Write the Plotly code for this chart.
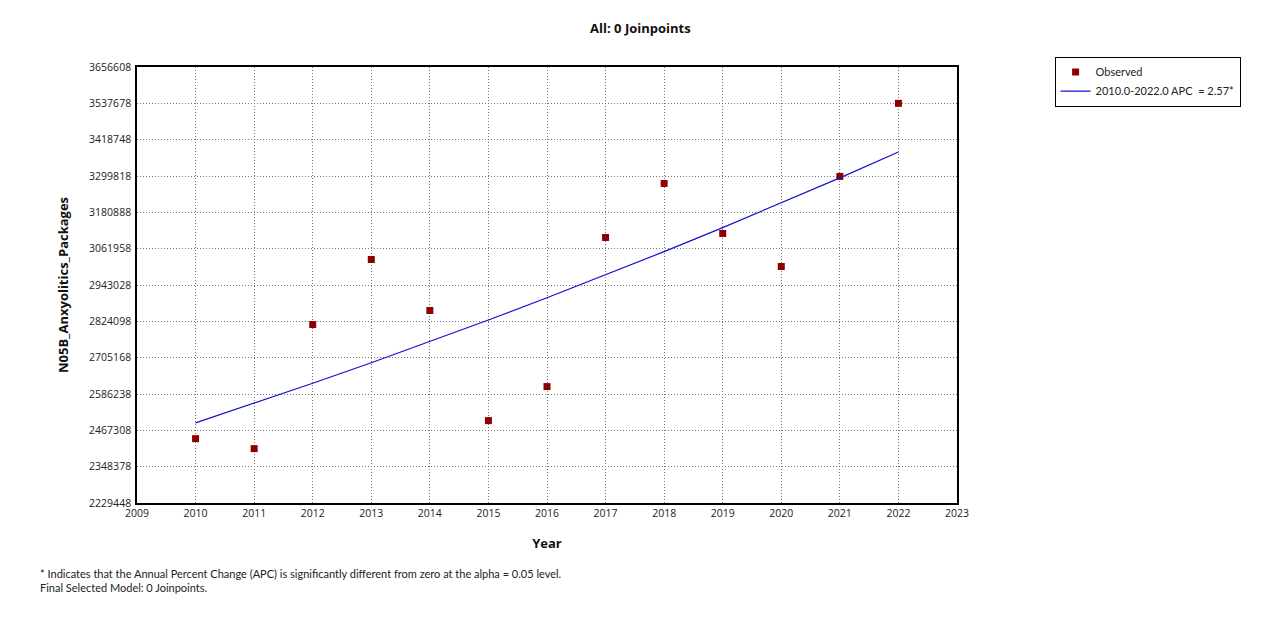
import plotly.graph_objects as go

years = [2010, 2011, 2012, 2013, 2014, 2015, 2016, 2017, 2018, 2019, 2020, 2021, 2022]
observed = [2440100, 2407400, 2813600, 3026500, 2859500, 2499100, 2610500,
            3098600, 3275500, 3111700, 3003600, 3298500, 3537700]
fitted = [2491550, 2555580, 2621260, 2688630, 2757730, 2828600, 2901300,
          2975860, 3052340, 3130790, 3211250, 3293780, 3378430]
y_ticks = [2229448, 2348378, 2467308, 2586238, 2705168, 2824098, 2943028,
           3061958, 3180888, 3299818, 3418748, 3537678, 3656608]
x_ticks = list(range(2009, 2024))

FONT = "Open Sans"

fig = go.Figure()
fig.add_trace(go.Scatter(
    x=years, y=observed, mode="markers", name="Observed",
    marker=dict(symbol="square", size=7, color="#8B0000"),
))
fig.add_trace(go.Scatter(
    x=years, y=fitted, mode="lines", name="2010.0-2022.0 APC  = 2.57*",
    line=dict(color="#1010D0", width=1.2),
))

fig.update_layout(
    width=1279, height=629,
    margin=dict(l=137, r=322, t=67, b=126),
    paper_bgcolor="white", plot_bgcolor="white",
    font=dict(family=FONT, size=10.5, color="#222"),
    title=dict(text="<b>All: 0 Joinpoints</b>", x=(137 + 957) / 2 / 1279 + 0.073,
               xanchor="center", y=1 - 28 / 629, yanchor="middle",
               font=dict(size=13, color="#111")),
    showlegend=True,
    legend=dict(x=1.119, y=1.024, xanchor="left", yanchor="top",
                bordercolor="black", borderwidth=1, bgcolor="white",
                font=dict(family="Lato", size=11, color="#222"), tracegroupgap=0,
                itemwidth=30),
    xaxis=dict(range=[2009, 2023], tickvals=x_ticks, ticktext=[str(v) for v in x_ticks],
               showgrid=True, gridcolor="#777", griddash="1px,2px", gridwidth=1,
               showline=True, linecolor="black", linewidth=1.5, mirror=True,
               ticks="", zeroline=False,
               title=dict(text="<b>Year</b>", font=dict(size=13, color="#111"), standoff=20)),
    yaxis=dict(range=[2229448, 3656608], tickvals=y_ticks, ticktext=[str(v) for v in y_ticks],
               showgrid=True, gridcolor="#777", griddash="1px,2px", gridwidth=1,
               showline=True, linecolor="black", linewidth=1.5, mirror=True,
               ticks="", zeroline=False, ticklabelstandoff=2,
               title=dict(text="<b>N05B_Anxyolitics_Packages</b>", font=dict(size=13, color="#111"), standoff=18)),
)

fig.add_annotation(
    text="* Indicates that the Annual Percent Change (APC) is significantly different from zero at the alpha = 0.05 level.<br>Final Selected Model: 0 Joinpoints.",
    xref="paper", yref="paper", x=(38 - 137) / 820, y=-(565 - 503) / 436,
    xanchor="left", yanchor="top", align="left", showarrow=False,
    font=dict(family="Lato", size=11, color="#222"),
)

fig.write_html("out.html")
